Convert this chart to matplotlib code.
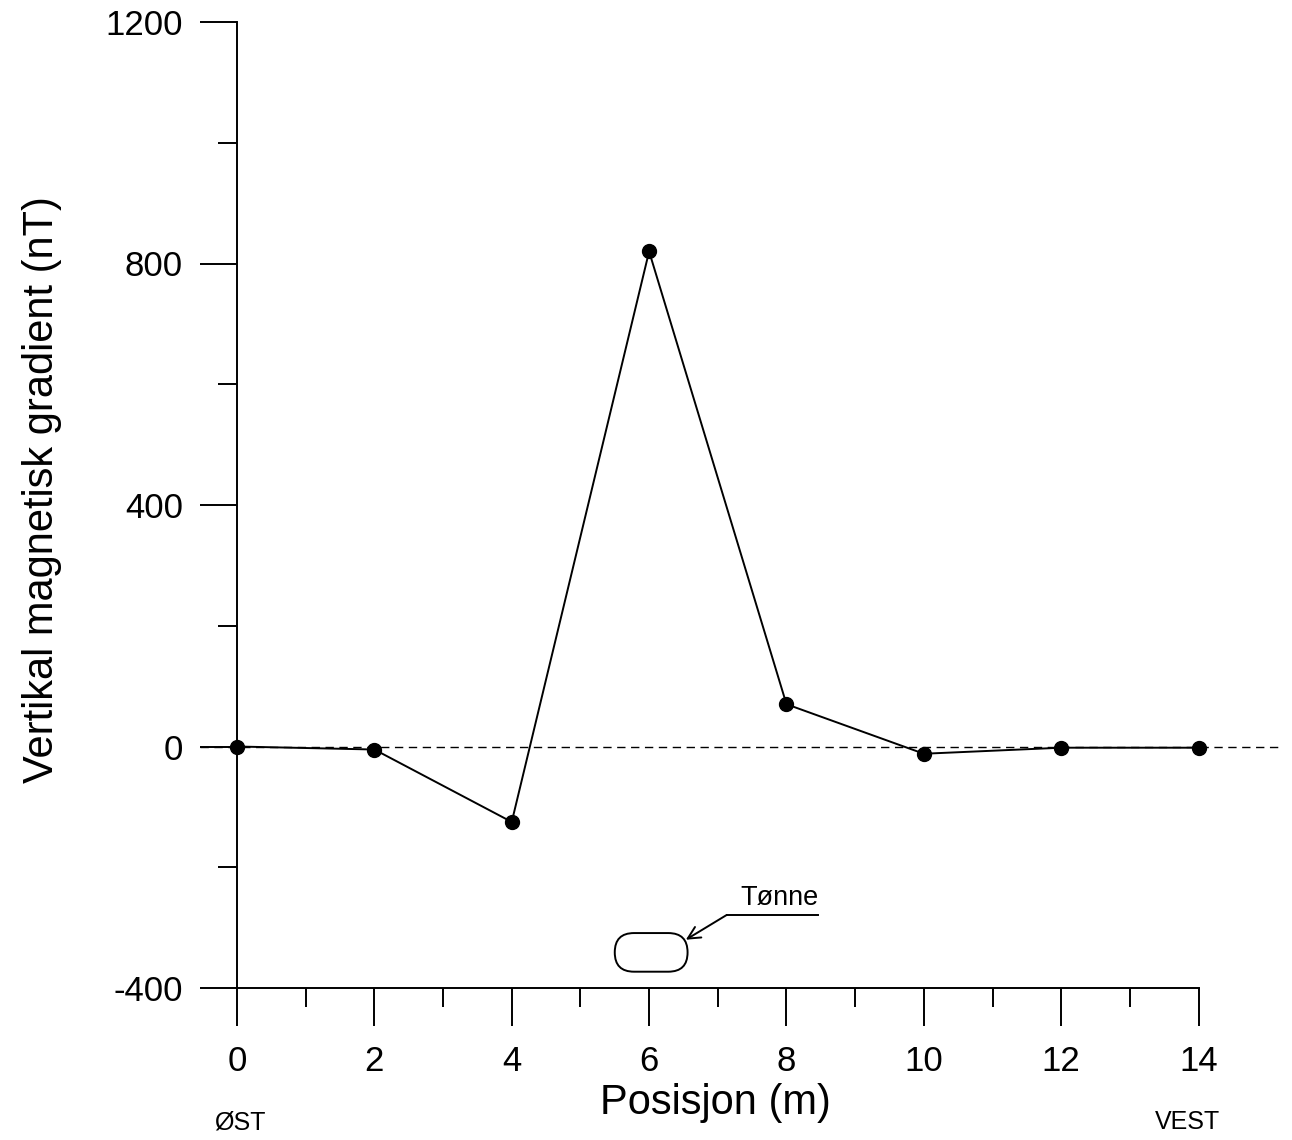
import numpy as np
import matplotlib.pyplot as plt
from matplotlib.patches import FancyBboxPatch

# Data
posisjon = [0, 2, 4, 6, 8, 10, 12, 14]
gradient = [0, -5, -125, 820, 70, -12, -2, -2]
xticks = [0, 2, 4, 6, 8, 10, 12, 14]
yticks = [-400, 0, 400, 800, 1200]

plt.rcParams['font.family'] = ['Liberation Sans', 'DejaVu Sans']
plt.rcParams['axes.unicode_minus'] = False

W, H = 1292, 1140
fig = plt.figure(figsize=(W / 100, H / 100), dpi=100)
ax = fig.add_axes([237 / W, 1 - 988 / H, (1281 - 237) / W, (988 - 22) / H])
ax.set_xlim(0, 15.2)
ax.set_ylim(-400, 1200)

# Axes styling
for s in ['top', 'right']:
    ax.spines[s].set_visible(False)
ax.spines['left'].set_linewidth(1.4)
ax.spines['bottom'].set_linewidth(1.4)
ax.spines['bottom'].set_bounds(0, 14)

ax.set_xticks(xticks)
ax.set_xticks(np.arange(1, 14, 2), minor=True)
ax.set_yticks(yticks)
ax.set_yticks([-200, 200, 600, 1000], minor=True)
ax.tick_params(axis='both', which='major', length=27, width=1.4, labelsize=25)
ax.tick_params(axis='both', which='minor', length=14, width=1.4)
ax.tick_params(axis='x', which='major', pad=14)
ax.tick_params(axis='y', which='major', pad=12)

# Zero reference line
ax.plot([-0.54, 15.2], [0, 0], color='black', lw=1.0, ls=(0, (6, 4)),
        clip_on=False, zorder=2)

# Profile
ax.plot(posisjon, gradient, color='black', lw=1.4, marker='o', markersize=10,
        zorder=3, clip_on=False)

# Barrel sketch
box = FancyBboxPatch((5.5, -373), 1.06, 64,
                     boxstyle="round,pad=0,rounding_size=0.28",
                     mutation_aspect=113.8, fc='white', ec='black', lw=1.4)
ax.add_patch(box)
ax.plot([7.13, 8.456], [-279, -279], color='black', lw=1.4)
ax.annotate('', xy=(6.535, -320), xytext=(7.13, -279),
            arrowprops=dict(arrowstyle='->', color='black', lw=1.4,
                            mutation_scale=22, shrinkA=0, shrinkB=0))
ax.text(7.33, -262, 'Tønne', fontsize=19.5, ha='left', va='baseline')

# Labels
fig.text(715 / W, 1 - 1103 / H, 'Posisjon (m)', fontsize=30,
         ha='center', va='center')
fig.text(42 / W, 1 - 490 / H, 'Vertikal magnetisk gradient (nT)', fontsize=30,
         ha='center', va='center', rotation=90)
fig.text(240 / W, 1 - 1122 / H, 'ØST', fontsize=18, ha='center', va='center')
fig.text(1188 / W, 1 - 1122 / H, 'VEST', fontsize=18, ha='center', va='center')

fig.savefig('out.png', dpi=100)
